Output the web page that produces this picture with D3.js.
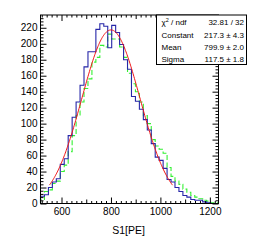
<!DOCTYPE html>
<html>
<head>
<meta charset="utf-8">
<script src="https://cdn.jsdelivr.net/npm/d3@7"></script>
<style>
  body { margin: 0; background: #fff; }
  svg { display: block; font-family: "Liberation Sans", Arial, sans-serif; }
</style>
</head>
<body>
<div id="chart"></div>
<script>
// histogram binning (S1 in PE)
const binStart = 515;
const binWidth = 16;

// bin contents
const blueCounts = [9, 11, 20, 27, 31, 49, 56, 85, 108, 127, 148, 171, 190, 190, 218, 225, 222, 195, 223, 214,
  199, 180, 168, 134, 128, 118, 105, 92, 75, 58, 54, 44, 30, 27, 20, 15, 10, 8, 5, 4, 4, 2, 1, 0, 0];
const greenCounts = [5, 15, 17, 25, 28, 40, 48, 65, 85, 110, 127, 144, 156, 177, 183, 198, 196, 212, 206, 206,
  196, 183, 163, 150, 140, 127, 110, 100, 80, 72, 68, 63, 45, 34, 28, 24, 18, 14, 10, 8, 6, 4, 3, 1, 1];

// gaussian fit shown in red
const fitConstant = 217.3;
const fitMean = 799.9;
const fitSigma = 117.5;
const fitRange = [551, 1049];

const statLabels = ["χ", "Constant", "Mean", "Sigma"];
const statValues = ["32.81 / 32", "217.3 ± 4.3", "799.9 ± 2.0", "117.5 ± 1.8"];

const xLabelTicks = [600, 800, 1000, 1200];
const yLabelTicks = [0, 20, 40, 60, 80, 100, 120, 140, 160, 180, 200, 220];

const W = 254, H = 243;
const frame = { left: 40.5, right: 218.5, top: 15, bottom: 203.5 };

const svg = d3.select("#chart").append("svg")
  .attr("width", W)
  .attr("height", H);

const x = d3.scaleLinear().domain([515, 1235]).range([frame.left, frame.right]);
const y = d3.scaleLinear().domain([0, 236]).range([frame.bottom, frame.top]);

const nBins = blueCounts.length;
const edges = d3.range(nBins + 1).map(i => binStart + i * binWidth);

function histPath(counts) {
  const pts = [[edges[0], 0]];
  counts.forEach((c, i) => {
    pts.push([edges[i], c]);
    pts.push([edges[i + 1], c]);
  });
  pts.push([edges[nBins], 0]);
  return d3.line().x(d => x(d[0])).y(d => y(d[1]))(pts);
}

const plot = svg.append("g");

plot.append("path")
  .attr("d", histPath(greenCounts))
  .attr("fill", "none")
  .attr("stroke", "#33f033")
  .attr("stroke-width", 1.1)
  .attr("stroke-dasharray", "5,2.5");

plot.append("path")
  .attr("d", histPath(blueCounts))
  .attr("fill", "none")
  .attr("stroke", "#2626a8")
  .attr("stroke-width", 1.1);

// fit curve
const fitXs = d3.range(fitRange[0], fitRange[1] + 0.1, 2);
const gaus = v => fitConstant * Math.exp(-0.5 * Math.pow((v - fitMean) / fitSigma, 2));
plot.append("path")
  .attr("d", d3.line().x(d => x(d)).y(d => y(gaus(d)))(fitXs))
  .attr("fill", "none")
  .attr("stroke", "#f01414")
  .attr("stroke-width", 1);

// frame
svg.append("rect")
  .attr("x", frame.left)
  .attr("y", frame.top)
  .attr("width", frame.right - frame.left)
  .attr("height", frame.bottom - frame.top)
  .attr("fill", "none")
  .attr("stroke", "#000")
  .attr("stroke-width", 1);

function ticks(gen, transform, values, size, labels) {
  const g = svg.append("g")
    .attr("transform", transform)
    .call(gen.tickValues(values).tickSizeInner(-size).tickSizeOuter(0)
      .tickFormat(labels ? d3.format("d") : ""));
  g.select(".domain").remove();
  g.selectAll("line").attr("stroke", "#000");
  g.selectAll("text").attr("fill", "#000").style("font-size", "10px")
    .style("font-family", "'Liberation Sans', Arial, sans-serif");
  return g;
}

const xMinor = d3.range(520, 1235, 20).filter(v => v % 100 !== 0);
const xMid = d3.range(600, 1235, 100).filter(v => v % 200 !== 0);
const yMinor = d3.range(0, 236, 4).filter(v => v % 20 !== 0);

// bottom
ticks(d3.axisBottom(x).tickPadding(4), `translate(0,${frame.bottom})`, xLabelTicks, 6, true);
ticks(d3.axisBottom(x), `translate(0,${frame.bottom})`, xMid, 4, false);
ticks(d3.axisBottom(x), `translate(0,${frame.bottom})`, xMinor, 2.5, false);
// top
ticks(d3.axisTop(x), `translate(0,${frame.top})`, xLabelTicks, 6, false);
ticks(d3.axisTop(x), `translate(0,${frame.top})`, xMid, 4, false);
ticks(d3.axisTop(x), `translate(0,${frame.top})`, xMinor, 2.5, false);
// left
ticks(d3.axisLeft(y).tickPadding(3), `translate(${frame.left},0)`, yLabelTicks, 6, true);
ticks(d3.axisLeft(y), `translate(${frame.left},0)`, yMinor, 3, false);
// right
ticks(d3.axisRight(y), `translate(${frame.right},0)`, yLabelTicks, 6, false);
ticks(d3.axisRight(y), `translate(${frame.right},0)`, yMinor, 3, false);

// axis title
svg.append("text")
  .attr("x", (frame.left + frame.right) / 2 - 1)
  .attr("y", 234)
  .attr("text-anchor", "middle")
  .style("font-size", "10.5px")
  .text("S1[PE]");

// stat box
const box = { x: 156.5, y: 15, w: 90, h: 49.5 };
svg.append("rect")
  .attr("x", box.x)
  .attr("y", box.y)
  .attr("width", box.w)
  .attr("height", box.h)
  .attr("fill", "#fff")
  .attr("stroke", "#000")
  .attr("stroke-width", 1);

const rowY = [25.3, 37.5, 49.8, 62];
statLabels.forEach((lab, i) => {
  const t = svg.append("text")
    .attr("x", 161.5)
    .attr("y", rowY[i])
    .style("font-size", "8px")
    .text(lab);
  if (i === 0) {
    t.append("tspan").attr("dy", -3).style("font-size", "5.5px").text("2");
    t.append("tspan").attr("dy", 3).text(" / ndf");
  }
  svg.append("text")
    .attr("x", 244)
    .attr("y", rowY[i])
    .attr("text-anchor", "end")
    .style("font-size", "8px")
    .text(statValues[i]);
});
</script>
</body>
</html>
